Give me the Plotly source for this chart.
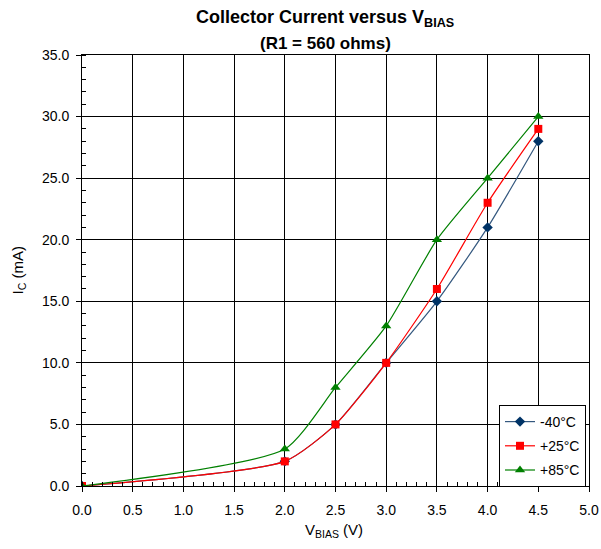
import plotly.graph_objects as go

v_bias = [0.0, 2.0, 2.5, 3.0, 3.5, 4.0, 4.5]
ic_m40 = [0.0, 2.0, 5.0, 10.0, 15.0, 21.0, 28.0]
ic_p25 = [0.0, 2.0, 5.0, 10.0, 16.0, 23.0, 29.0]
ic_p85 = [0.0, 3.0, 8.0, 13.0, 20.0, 25.0, 30.0]
series_names = ["-40°C", "+25°C", "+85°C"]

FONT = "Liberation Sans, Arial, sans-serif"
W, H = 601, 549
L, R, T, B = 82, 12, 55, 63
PW, PH = W - L - R, H - T - B

def px_x(px):
    return (px - L) / PW

def px_y(py):
    return (H - B - py) / PH

fig = go.Figure()
specs = [
    (ic_m40, "#34587f", "diamond", 8, "#003366"),
    (ic_p25, "#ff0000", "square", 8, "#ff0000"),
    (ic_p85, "#008000", "triangle-up", 9, "#008000"),
]
for name, (ys, lc, sym, ms, mc) in zip(series_names, specs):
    fig.add_trace(go.Scatter(x=v_bias, y=ys, name=name, legendgroup=name, mode="lines+markers",
                             line=dict(color=lc, width=1.2, shape="spline", smoothing=0.6),
                             marker=dict(symbol=sym, size=ms, color=mc)))

axis_common = dict(showline=True, linecolor="black", linewidth=1, mirror=True,
                   showgrid=True, gridcolor="black", gridwidth=1, zeroline=False,
                   ticks="outside", ticklen=5, tickcolor="black", automargin=False,
                   tickfont=dict(family=FONT, size=14, color="black"))

fig.update_layout(
    width=W, height=H,
    margin=dict(l=L, r=R, t=T, b=B),
    paper_bgcolor="white", plot_bgcolor="white",
    font=dict(family=FONT, color="black"),
    annotations=[
        dict(text="<b>Collector Current versus V<sub>BIAS</sub></b>", x=px_x(325), xref="paper",
             y=px_y(19), yref="paper", xanchor="center", yanchor="middle", showarrow=False,
             font=dict(family=FONT, size=18, color="black")),
        dict(text="<b>(R1 = 560 ohms)</b>", x=px_x(325), xref="paper",
             y=px_y(43), yref="paper", xanchor="center", yanchor="middle", showarrow=False,
             font=dict(family=FONT, size=17, color="black")),
        dict(text="I<sub>C</sub> (mA)", x=px_x(18), xref="paper", y=0.5, yref="paper",
             xanchor="center", yanchor="middle", textangle=-90, showarrow=False,
             font=dict(family=FONT, size=15, color="black")),
        dict(text="V<sub>BIAS</sub> (V)", x=px_x(334), xref="paper", y=px_y(530), yref="paper",
             xanchor="center", yanchor="middle", showarrow=False,
             font=dict(family=FONT, size=15, color="black")),
    ],
    xaxis=dict(range=[0, 5], dtick=0.5, tick0=0, tickformat=".1f", ticklabelstandoff=6,
               minor=dict(dtick=0.1, ticks="inside", ticklen=4, tickcolor="black", showgrid=False),
               **axis_common),
    yaxis=dict(range=[0, 35], dtick=5, tick0=0, tickformat=".1f", ticklabelstandoff=4,
               minor=dict(dtick=1, ticks="inside", ticklen=4, tickcolor="black", showgrid=False),
               **axis_common),
    legend=dict(x=px_x(499), y=px_y(405), xanchor="left", yanchor="top",
                bgcolor="white", bordercolor="black", borderwidth=1,
                font=dict(family=FONT, size=14, color="black"),
                itemwidth=30, tracegroupgap=3),
    showlegend=True,
)

fig.write_html("out.html", post_script="document.body.style.margin='0';",
               config={"displayModeBar": False})
